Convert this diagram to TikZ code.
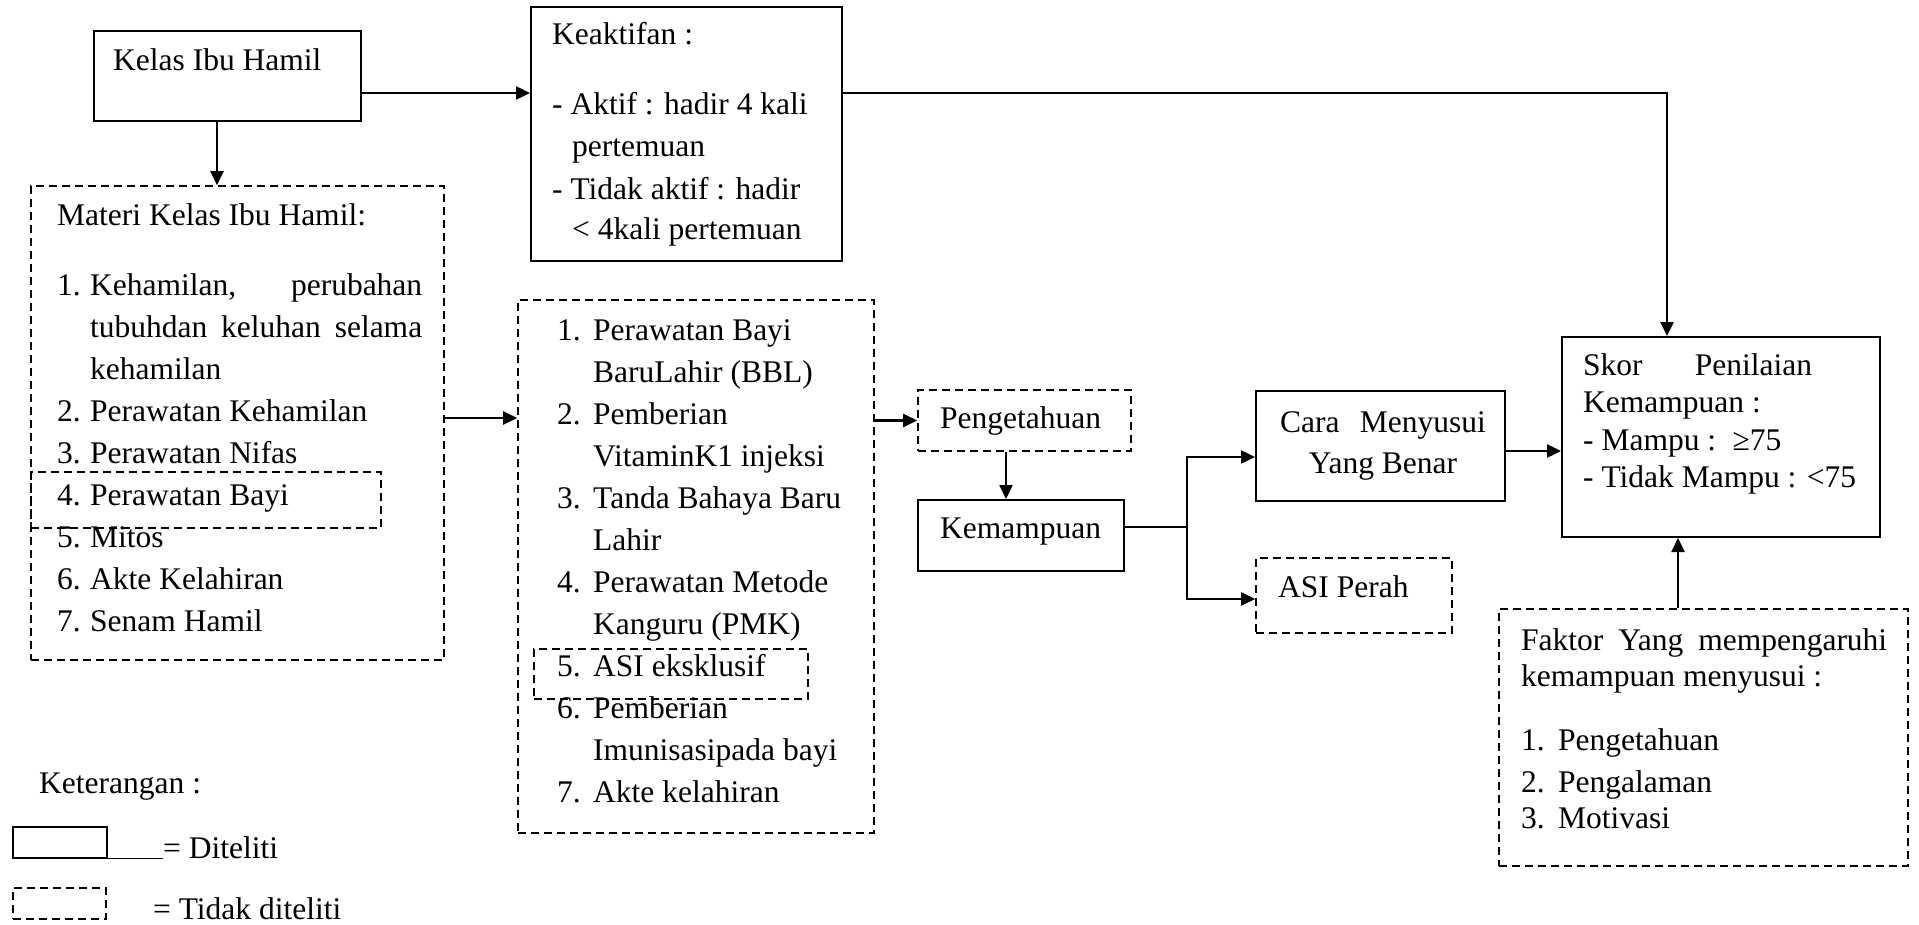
\documentclass[tikz,border=0pt]{standalone}
\usepackage{fontspec}
\setmainfont{Liberation Serif}
\usetikzlibrary{arrows.meta,calc,positioning}

\newcommand{\itm}[2][33pt]{\makebox[#1][l]{#2}}

\begin{document}
\begin{tikzpicture}[x=1pt,y=-1pt]

\tikzset{diteliti/.style={draw=black,line width=2pt,inner sep=0pt,shape=rectangle},
tidakditeliti/.style={draw=black,line width=1.6pt,dash pattern=on 8pt off 5pt,inner sep=0pt,shape=rectangle},
txt/.style={inner sep=0pt,align=left,anchor=base west,font=\fontsize{31.5}{42}\selectfont},
transitions/.style={-{Triangle[length=14pt,width=13pt]},line width=2.4pt},
links/.style={line width=2.4pt}}

\useasboundingbox (0,0) rectangle (1919,925);

% Boxes
\node (kelas) [diteliti,minimum width=267,minimum height=90] at (227.5,76) {};
\node (keaktifan) [diteliti,minimum width=311,minimum height=254] at (686.5,134) {};
\node (materi) [tidakditeliti,minimum width=413,minimum height=474] at (237.5,423) {};
\node (bayi) [tidakditeliti,minimum width=350,minimum height=56] at (206,500) {};
\node (perawatan) [tidakditeliti,minimum width=356,minimum height=533] at (696,566.5) {};
\node (asiex) [tidakditeliti,minimum width=274,minimum height=50] at (671,674) {};
\node (pengetahuan) [tidakditeliti,minimum width=213,minimum height=61] at (1024.5,420.5) {};
\node (kemampuan) [diteliti,minimum width=206,minimum height=71] at (1021,535.5) {};
\node (cara) [diteliti,minimum width=249,minimum height=110] at (1380.5,446) {};
\node (asiperah) [tidakditeliti,minimum width=196,minimum height=75] at (1354,595.5) {};
\node (skor) [diteliti,minimum width=318,minimum height=200] at (1721,437) {};
\node (faktor) [tidakditeliti,minimum width=409,minimum height=257] at (1703.5,737.5) {};

% Texts (multi-line nodes sit on the baseline of their last line)
\node (kelastxt) [txt] at (113,71) {Kelas Ibu Hamil};
\node (keaktxt) [txt] at (552,240) {Keaktifan :\\[28pt]
- Aktif : hadir 4 kali\\
\hspace*{20pt}pertemuan\\[1pt]
- Tidak aktif : hadir\\[-2pt]
\hspace*{20pt}< 4kali pertemuan};
\node (materitxt) [txt] at (57,631) {Materi Kelas Ibu Hamil:\\[28pt]
\makebox[365pt][l]{\itm{1.}Kehamilan,\hfill perubahan}\\
\itm{}\makebox[332pt][l]{tubuhdan\hfill keluhan\hfill selama}\\
\itm{}kehamilan\\
\itm{2.}Perawatan Kehamilan\\
\itm{3.}Perawatan Nifas\\
\itm{4.}Perawatan Bayi\\
\itm{5.}Mitos\\
\itm{6.}Akte Kelahiran\\
\itm{7.}Senam Hamil};
\node (perawatantxt) [txt] at (557,802) {\itm[36pt]{1.}Perawatan Bayi\\
\itm[36pt]{}BaruLahir (BBL)\\
\itm[36pt]{2.}Pemberian\\
\itm[36pt]{}VitaminK1 injeksi\\
\itm[36pt]{3.}Tanda Bahaya Baru\\
\itm[36pt]{}Lahir\\
\itm[36pt]{4.}Perawatan Metode\\
\itm[36pt]{}Kanguru (PMK)\\
\itm[36pt]{5.}ASI eksklusif\\
\itm[36pt]{6.}Pemberian\\
\itm[36pt]{}Imunisasipada bayi\\
\itm[36pt]{7.}Akte kelahiran};
\node (pengtxt) [txt] at (940,428) {Pengetahuan};
\node (kemtxt) [txt] at (940,538) {Kemampuan};
\node (caratxt) [txt,align=center,anchor=base] at (1383,473) {\makebox[206pt]{Cara\hfill Menyusui}\\[-1pt]
Yang Benar};
\node (asitxt) [txt] at (1278,597) {ASI Perah};
\node (skortxt) [txt] at (1583,487) {\makebox[229pt][l]{Skor\hfill Penilaian}\\[-5pt]
Kemampuan :\\[-4pt]
- Mampu : \hspace{6pt}≥75\\[-5pt]
- Tidak Mampu : <75};
\node (faktortxt) [txt] at (1521,828) {\makebox[366pt][l]{Faktor\hfill Yang\hfill mempengaruhi}\\[-6pt]
kemampuan menyusui :\\[22pt]
\itm[37pt]{1.}Pengetahuan\\
\itm[37pt]{2.}Pengalaman\\[-6pt]
\itm[37pt]{3.}Motivasi};

% Legend
\node (ket) [txt] at (39,793) {Keterangan :};
\node (legsolid) [diteliti,line width=1.5pt,minimum width=94,minimum height=31] at (60,842.5) {};
\node (legdash) [tidakditeliti,line width=1.5pt,minimum width=93,minimum height=31] at (59.5,903.5) {};
\node (ditxt) [txt] at (163,858) {= Diteliti};
\node (tdtxt) [txt] at (153,919) {= Tidak diteliti};
\draw [line width=1.2pt] (legsolid.south east) -- (legsolid.south east -| ditxt.west);

% Arrows
\draw [transitions] ([yshift=-17pt]kelas.east) -- ([yshift=-17pt]kelas.east -| keaktifan.west);
\draw [transitions] ([yshift=41pt]keaktifan.east) -| ([xshift=-54pt]skor.north);
\draw [transitions] ([xshift=-10.5pt]kelas.south) -- ([xshift=-10.5pt]kelas.south |- materi.north);
\draw [transitions] ([yshift=5pt]materi.east) -- ([yshift=5pt]materi.east -| perawatan.west);
\draw [transitions] (perawatan.east |- pengetahuan.west) -- (pengetahuan.west);
\draw [transitions] ([xshift=-18.5pt]pengetahuan.south) -- ([xshift=-18.5pt]pengetahuan.south |- kemampuan.north);
\draw [links] ([yshift=8.5pt]kemampuan.east) -- ++(62,0) coordinate (fork);
\draw [transitions] (fork) |- ([yshift=-11pt]cara.west);
\draw [transitions] (fork) |- ([yshift=-3.5pt]asiperah.west);
\draw [transitions] ([yshift=-5pt]cara.east) -- ([yshift=-5pt]cara.east -| skor.west);
\draw [transitions] ([xshift=-25.5pt]faktor.north) -- ([xshift=-25.5pt]faktor.north |- skor.south);

\end{tikzpicture}
\end{document}
